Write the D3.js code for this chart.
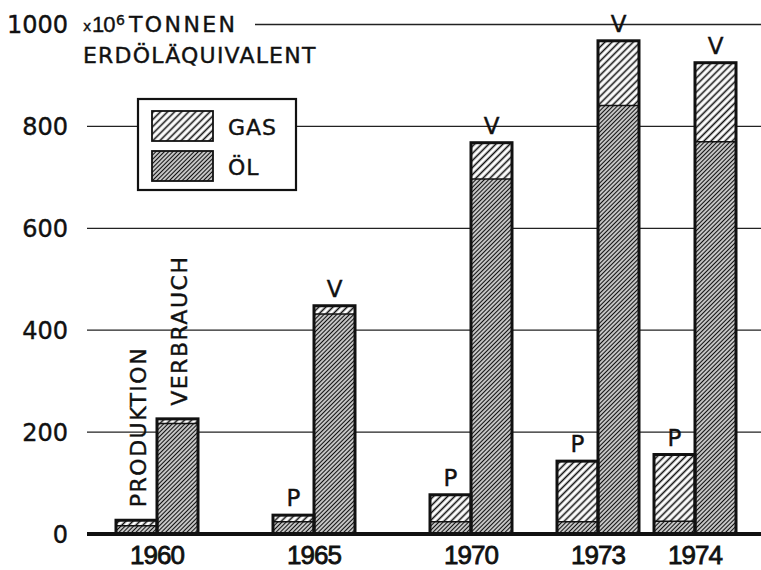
<!DOCTYPE html>
<html>
<head>
<meta charset="utf-8">
<script src="https://cdn.jsdelivr.net/npm/d3@7"></script>
<style>
  body { margin: 0; background: #fff; }
  svg { display: block; }
  text { font-family: "DejaVu Sans", sans-serif; fill: #111; stroke: #111; stroke-width: 0.4px; }
</style>
</head>
<body>
<div id="chart"></div>
<script>
// Werte in 10^6 t Erdöläquivalent
const years = [1960, 1965, 1970, 1973, 1974]
const prodOel = [16, 24, 24, 24, 25]
const prodGas = [11, 13, 53, 119, 131]
const verbOel = [217, 432, 697, 841, 770]
const verbGas = [9, 16, 71, 127, 155]
const yTicks = [0, 200, 400, 600, 800, 1000]
const legendItems = ["GAS", "ÖL"]

const width = 761
const height = 570
const barW = 41
const left = 87

const svg = d3.select("#chart")
    .append("svg")
    .attr("width", width)
    .attr("height", height)

// hatch patterns
const defs = svg.append("defs")
const hatch = (id, gap, sw) => {
    const p = defs.append("pattern")
        .attr("id", id)
        .attr("patternUnits", "userSpaceOnUse")
        .attr("width", gap)
        .attr("height", gap)
        .attr("patternTransform", "rotate(45)")
    p.append("rect").attr("width", gap).attr("height", gap).attr("fill", "#fff")
    p.append("line")
        .attr("x1", gap / 2).attr("x2", gap / 2)
        .attr("y1", 0).attr("y2", gap)
        .attr("stroke", "#111")
        .attr("stroke-width", sw)
}
hatch("gas", 5, 1.6)
hatch("oel", 3, 1.5)

const yScale = d3.scaleLinear()
    .domain([0, 1000])
    .range([534, 24.5])

// gap between groups grows with the years in between
const yearGap = d3.scaleLinear().domain([1960, 1961]).range([0, 15])
const groupX = (i) => left + 70 + i * barW * 2 + yearGap(years[i])

// gridlines
svg.append("g")
    .selectAll("line")
    .data(yTicks.filter(d => d > 0))
    .join("line")
    .attr("x1", d => d === 1000 ? 255 : left)
    .attr("x2", width)
    .attr("y1", d => yScale(d))
    .attr("y2", d => yScale(d))
    .attr("stroke", "#222")
    .attr("stroke-width", 1.3)

// y labels
svg.append("g")
    .selectAll("text")
    .data(yTicks)
    .join("text")
    .attr("x", 68)
    .attr("y", d => yScale(d))
    .attr("dy", "0.36em")
    .attr("text-anchor", "end")
    .style("font-size", "24px")
    .text(d => d)

// title
const title = svg.append("g")
title.append("text").attr("x", 83).attr("y", 31).style("font-size", "14px").text("x")
title.append("text").attr("x", 92).attr("y", 32)
    .style("font-family", "'Liberation Sans', Arial, sans-serif")
    .style("font-size", "22px").style("letter-spacing", "-1px").text("10")
title.append("text").attr("x", 116).attr("y", 25).style("font-size", "14px").text("6")
title.append("text").attr("x", 129).attr("y", 32).style("font-size", "22px").style("letter-spacing", "2.4px").text("TONNEN")
title.append("text").attr("x", 83).attr("y", 63).style("font-size", "22px").style("letter-spacing", "1.2px").text("ERDÖLÄQUIVALENT")

// legend
const legend = svg.append("g")
legend.append("rect")
    .attr("x", 138).attr("y", 99)
    .attr("width", 158).attr("height", 91)
    .attr("fill", "#fff")
    .attr("stroke", "#111")
    .attr("stroke-width", 2.2)
legend.selectAll(".swatch")
    .data(legendItems)
    .join("rect")
    .attr("class", "swatch")
    .attr("x", 152)
    .attr("y", (d, i) => 111 + i * 40)
    .attr("width", 61)
    .attr("height", 30)
    .attr("fill", (d, i) => i === 0 ? "url(#gas)" : "url(#oel)")
    .attr("stroke", "#111")
    .attr("stroke-width", 1.8)
legend.selectAll(".ltext")
    .data(legendItems)
    .join("text")
    .attr("class", "ltext")
    .attr("x", 228)
    .attr("y", (d, i) => 135 + i * 40)
    .style("font-size", "22px")
    .style("letter-spacing", "1px")
    .text(d => d)

// bars
const groups = years.map((y, i) => ({
    year: y,
    i: i,
    cx: groupX(i),
    bars: [
        { kind: "P", x: groupX(i) - barW, oel: prodOel[i], gas: prodGas[i] },
        { kind: "V", x: groupX(i), oel: verbOel[i], gas: verbGas[i] }
    ]
}))
const allBars = groups.flatMap(g => g.bars.map(b => Object.assign({ year: g.year }, b)))

const barG = svg.append("g")
barG.selectAll(".oel")
    .data(allBars)
    .join("rect")
    .attr("class", "oel")
    .attr("x", d => d.x)
    .attr("width", barW)
    .attr("y", d => yScale(d.oel))
    .attr("height", d => yScale(0) - yScale(d.oel))
    .attr("fill", "url(#oel)")
barG.selectAll(".gas")
    .data(allBars)
    .join("rect")
    .attr("class", "gas")
    .attr("x", d => d.x)
    .attr("width", barW)
    .attr("y", d => yScale(d.oel + d.gas))
    .attr("height", d => yScale(d.oel) - yScale(d.oel + d.gas))
    .attr("fill", "url(#gas)")
barG.selectAll(".split")
    .data(allBars)
    .join("line")
    .attr("class", "split")
    .attr("x1", d => d.x)
    .attr("x2", d => d.x + barW)
    .attr("y1", d => yScale(d.oel))
    .attr("y2", d => yScale(d.oel))
    .attr("stroke", "#111")
    .attr("stroke-width", 1.5)
barG.selectAll(".outline")
    .data(allBars)
    .join("rect")
    .attr("class", "outline")
    .attr("x", d => d.x)
    .attr("width", barW)
    .attr("y", d => yScale(d.oel + d.gas))
    .attr("height", d => yScale(0) - yScale(d.oel + d.gas))
    .attr("fill", "none")
    .attr("stroke", "#111")
    .attr("stroke-width", 3)

// P / V letters
svg.append("g")
    .selectAll("text")
    .data(allBars.filter(d => d.year !== 1960))
    .join("text")
    .attr("x", d => d.x + barW / 2)
    .attr("y", d => yScale(d.oel + d.gas) - 9)
    .attr("text-anchor", "middle")
    .style("font-size", "23px")
    .text(d => d.kind)

// rotated labels for 1960
const first = allBars.filter(d => d.year === 1960)
svg.append("g")
    .selectAll("text")
    .data(first)
    .join("text")
    .attr("transform", d => `translate(${d.x + barW / 2 + 9},${yScale(d.oel + d.gas) - 13}) rotate(-90)`)
    .style("font-size", "22px")
    .style("letter-spacing", "1.5px")
    .text(d => d.kind === "P" ? "PRODUKTION" : "VERBRAUCH")

// baseline
svg.append("line")
    .attr("x1", left)
    .attr("x2", width)
    .attr("y1", yScale(0))
    .attr("y2", yScale(0))
    .attr("stroke", "#111")
    .attr("stroke-width", 4)

// year labels
svg.append("g")
    .selectAll("text")
    .data(groups)
    .join("text")
    .attr("x", d => d.cx)
    .attr("y", 564)
    .attr("text-anchor", "middle")
    .style("font-family", "'Liberation Sans', Arial, sans-serif")
    .style("font-size", "26px")
    .style("stroke-width", "0.8px")
    .style("letter-spacing", "-1px")
    .text(d => d.year)
</script>
</body>
</html>
